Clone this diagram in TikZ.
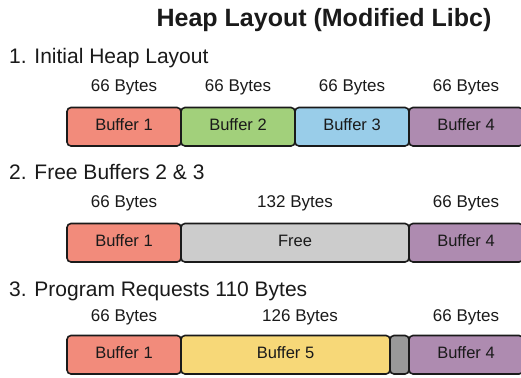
\documentclass[tikz,border=0pt]{standalone}
\usepackage{fontspec}
\setmainfont{Liberation Sans}
\definecolor{cSalmon}{HTML}{F28B7B}
\definecolor{cGreen}{HTML}{A2D07B}
\definecolor{cBlue}{HTML}{99CDE9}
\definecolor{cPurple}{HTML}{AE8BB0}
\definecolor{cFree}{HTML}{CCCCCC}
\definecolor{cYellow}{HTML}{F7D878}
\definecolor{cGrey}{HTML}{999999}
\definecolor{cLine}{HTML}{1A1A1A}
\definecolor{cText}{HTML}{1A1A1A}
\begin{document}
\begin{tikzpicture}[x=1pt,y=-1pt,
  buf/.style={draw=cLine,line width=1.6pt,rounded corners=4pt,minimum height=38.5pt,
    inner sep=0pt,outer sep=0pt,text=cText,font=\fontsize{16.5}{18}\selectfont,
    text height=12pt,text depth=4pt},
  sizelbl/.style={anchor=base,inner sep=0pt,text=cText,font=\fontsize{17}{19}\selectfont},
  sect/.style={anchor=base west,inner sep=0pt,text=cText,font=\fontsize{21}{24}\selectfont},
  ttl/.style={anchor=base,inner sep=0pt,text=cText,font=\bfseries\fontsize{25}{28}\selectfont}]
\useasboundingbox (0,0) rectangle (521,377);
\clip (0,0) rectangle (521,377);
\fill[white] (0,0) rectangle (521,377);

\node[ttl] (title) at (324,27) {Heap Layout (Modified Libc)};

% Row 1
\node[sect] (s1) at (9,64) {1. Initial Heap Layout};
\node[sizelbl] (l11) at (124,92) {66 Bytes};
\node[sizelbl] (l12) at (238,92) {66 Bytes};
\node[sizelbl] (l13) at (352,92) {66 Bytes};
\node[sizelbl] (l14) at (466,92) {66 Bytes};
\node[buf,fill=cSalmon,minimum width=114pt] (b11) at (124,126.75) {Buffer 1};
\node[buf,fill=cGreen,minimum width=114pt] (b12) at (238,126.75) {Buffer 2};
\node[buf,fill=cBlue,minimum width=114pt] (b13) at (352,126.75) {Buffer 3};
\node[buf,fill=cPurple,minimum width=114pt] (b14) at (466,126.75) {Buffer 4};

% Row 2
\node[sect] (s2) at (9,179) {2. Free Buffers 2 \& 3};
\node[sizelbl] (l21) at (124,207) {66 Bytes};
\node[sizelbl] (l22) at (295,207) {132 Bytes};
\node[sizelbl] (l23) at (466,207) {66 Bytes};
\node[buf,fill=cSalmon,minimum width=114pt] (b21) at (124,242.75) {Buffer 1};
\node[buf,fill=cFree,minimum width=228pt] (b22) at (295,242.75) {Free};
\node[buf,fill=cPurple,minimum width=114pt] (b23) at (466,242.75) {Buffer 4};

% Row 3
\node[sect] (s3) at (9,296) {3. Program Requests 110 Bytes};
\node[sizelbl] (l31) at (124,321) {66 Bytes};
\node[sizelbl] (l32) at (300,321) {126 Bytes};
\node[sizelbl] (l33) at (466,321) {66 Bytes};
\node[buf,fill=cSalmon,minimum width=114pt] (b31) at (124,354.75) {Buffer 1};
\node[buf,fill=cYellow,minimum width=209pt] (b32) at (285.5,354.75) {Buffer 5};
\node[buf,fill=cGrey,minimum width=19pt] (b33) at (399.5,354.75) {};
\node[buf,fill=cPurple,minimum width=114pt] (b34) at (466,354.75) {Buffer 4};
\end{tikzpicture}
\end{document}
